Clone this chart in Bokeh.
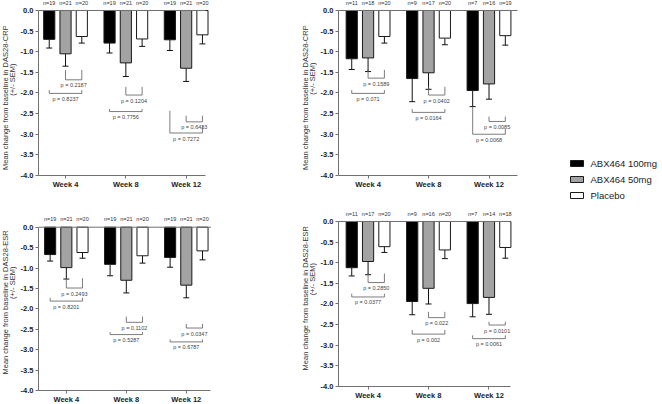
import numpy as np
from math import pi
from bokeh.plotting import figure
from bokeh.models import (Range1d, FixedTicker, PrintfTickFormatter, Whisker,
                          TeeHead, ColumnDataSource, GlobalInlineStyleSheet)
from bokeh.layouts import row, column
from bokeh.embed import file_html
from bokeh.resources import INLINE
from bokeh.core.properties import value

# ---------------- data ----------------
weeks = ["Week 4", "Week 8", "Week 12"]
groups = ["ABX464 100mg", "ABX464 50mg", "Placebo"]
group_colors = ["#000000", "#a3a3a3", "#ffffff"]

# DAS28-CRP, left panel  (rows: 100mg, 50mg, placebo; cols: week 4, 8, 12)
crp1_mean = [[-0.70, -0.79, -0.71], [-1.05, -1.27, -1.40], [-0.63, -0.69, -0.59]]
crp1_sem = [[0.21, 0.24, 0.26], [0.30, 0.33, 0.32], [0.16, 0.18, 0.22]]
crp1_n = [[19, 19, 19], [21, 21, 21], [20, 20, 20]]
# (week index, left group, right group, bracket level, left tick top, right tick top, label)
crp1_brackets = [
    (0, 1, 2, -1.68, -1.44, -1.44, "p = 0.2187"),
    (0, 0, 2, -2.01, -1.93, -1.93, "p = 0.8237"),
    (1, 1, 2, -2.05, -1.85, -1.85, "p = 0.1204"),
    (1, 0, 2, -2.45, -2.39, -2.39, "p = 0.7756"),
    (2, 1, 2, -2.70, -2.55, -2.55, "p = 0.6433"),
    (2, 0, 2, -2.97, -2.43, -2.79, "p = 0.7272"),
]

# DAS28-CRP, right panel
crp2_mean = [[-1.17, -1.65, -1.94], [-1.15, -1.51, -1.78], [-0.63, -0.67, -0.61]]
crp2_sem = [[0.26, 0.56, 0.39], [0.33, 0.40, 0.37], [0.16, 0.16, 0.23]]
crp2_n = [[11, 9, 7], [18, 17, 16], [20, 20, 19]]
crp2_brackets = [
    (0, 1, 2, -1.64, -1.44, -1.44, "p = 0.1589"),
    (0, 0, 2, -2.01, -1.93, -1.93, "p = 0.071"),
    (1, 1, 2, -2.05, -1.85, -1.85, "p = 0.0402"),
    (1, 0, 2, -2.47, -2.39, -2.39, "p = 0.0164"),
    (2, 1, 2, -2.69, -2.57, -2.57, "p = 0.0085"),
    (2, 0, 2, -3.00, -2.33, -2.87, "p = 0.0068"),
]

# DAS28-ESR, left panel
esr1_mean = [[-0.67, -0.91, -0.74], [-0.99, -1.30, -1.42], [-0.62, -0.70, -0.58]]
esr1_sem = [[0.16, 0.28, 0.24], [0.28, 0.31, 0.31], [0.14, 0.18, 0.22]]
esr1_n = [[19, 19, 19], [21, 21, 21], [20, 20, 20]]
esr1_brackets = [
    (0, 1, 2, -1.49, -1.25, -1.25, "p = 0.2493"),
    (0, 0, 2, -1.81, -1.73, -1.73, "p = 0.8201"),
    (1, 1, 2, -2.33, -2.19, -2.19, "p = 0.1102"),
    (1, 0, 2, -2.63, -2.57, -2.57, "p = 0.5287"),
    (2, 1, 2, -2.47, -2.37, -2.37, "p = 0.0347"),
    (2, 0, 2, -2.81, -2.75, -2.75, "p = 0.6787"),
]

# DAS28-ESR, right panel
esr2_mean = [[-1.12, -1.94, -1.99], [-0.97, -1.62, -1.84], [-0.61, -0.69, -0.63]]
esr2_sem = [[0.20, 0.32, 0.32], [0.32, 0.38, 0.41], [0.14, 0.21, 0.26]]
esr2_n = [[11, 9, 7], [17, 16, 14], [20, 20, 18]]
esr2_brackets = [
    (0, 1, 2, -1.48, -1.26, -1.26, "p = 0.2850"),
    (0, 0, 2, -1.83, -1.75, -1.75, "p = 0.0377"),
    (1, 1, 2, -2.33, -2.19, -2.19, "p = 0.022"),
    (1, 0, 2, -2.73, -2.63, -2.63, "p = 0.002"),
    (2, 1, 2, -2.51, -2.43, -2.43, "p = 0.0101"),
    (2, 0, 2, -2.84, -2.76, -2.76, "p = 0.0061"),
]

y_ticks = [-4.0, -3.5, -3.0, -2.5, -2.0, -1.5, -1.0, -0.5, 0.0]
title_lines_crp = ["Mean change from baseline in DAS28-CRP", "(+/- SEM)"]
title_lines_esr = ["Mean change from baseline in DAS28-ESR", "(+/- SEM)"]

FONT = "Liberation Sans"
AXIS_COLOR = "#707070"
OFFSETS = [-0.27, 0.0, 0.27]
BAR_W = 0.185


def title_fig(lines, g):
    # same vertical scale as the panel, but the frame runs to the bottom edge
    ppu = (g["h"] - g["bt"] - g["bb"]) / (4 + g["yt"])
    ylo = -4 - g["bb"] / ppu
    t = figure(width=g["tw"], height=g["h"], x_range=Range1d(0, g["tw"]),
               y_range=Range1d(ylo, g["yt"]), x_axis_type=None, y_axis_type=None,
               output_backend="svg", toolbar_location=None,
               min_border_left=0, min_border_right=0,
               min_border_top=g["bt"], min_border_bottom=0)
    t.outline_line_color = None
    t.xgrid.visible = False
    t.ygrid.visible = False
    t.text(x=g["tx"], y=g["ty"], text=lines, angle=pi / 2,
           text_font=value(FONT), text_font_size="7.5px", text_align="center",
           text_baseline="middle", text_color="#333333")
    return t


def panel(mean, sem, n, brackets, g):
    p = figure(width=g["w"], height=g["h"],
               x_range=Range1d(g["xs"], g["xe"]), y_range=Range1d(-4, g["yt"]),
               output_backend="svg", toolbar_location=None,
               min_border_left=g["bl"], min_border_right=g["br"],
               min_border_top=g["bt"], min_border_bottom=g["bb"])
    p.outline_line_color = None
    p.xgrid.visible = False
    p.ygrid.visible = False

    for gi in range(3):
        xs = [w + 1 + OFFSETS[gi] for w in range(len(weeks))]
        src = ColumnDataSource(dict(
            x=xs, top=[0.0] * len(xs), bottom=mean[gi],
            lower=[m - s for m, s in zip(mean[gi], sem[gi])], upper=mean[gi],
            nlab=[f"n={v}" for v in n[gi]]))
        p.vbar(x="x", top="top", bottom="bottom", width=BAR_W, source=src,
               fill_color=group_colors[gi], line_color="#1a1a1a", line_width=1)
        p.add_layout(Whisker(base="x", lower="lower", upper="upper", source=src,
                             line_color="#111111", line_width=1, upper_head=None,
                             lower_head=TeeHead(size=6, line_color="#111111", line_width=1)))
        p.text(x="x", y=0.19, text="nlab", source=src, text_font=value(FONT),
               text_font_size="5.5px", text_align="center", text_baseline="middle",
               text_color="#333333")

    hx0, hx1, hy, vx, vy0, vy1, tx, ty, tt = [], [], [], [], [], [], [], [], []
    for (wk, a, b, yl, ta, tb, lab) in brackets:
        xa = wk + 1 + OFFSETS[a]
        xb = wk + 1 + OFFSETS[b]
        hx0.append(xa); hx1.append(xb); hy.append(yl)
        vx += [xa, xb]; vy0 += [ta, tb]; vy1 += [yl, yl]
        tx.append((xa + xb) / 2); ty.append(yl); tt.append(lab)
    p.segment(x0=hx0, y0=hy, x1=hx1, y1=hy, line_color="#5a5a5a", line_width=0.8)
    p.segment(x0=vx, y0=vy0, x1=vx, y1=vy1, line_color="#5a5a5a", line_width=0.8)
    p.text(x=tx, y=ty, text=tt, y_offset=5.5, text_font=value(FONT), text_font_size="5.5px",
           text_align="center", text_baseline="middle", text_color="#444444")

    # zero line across the axis extent
    p.segment(x0=[g["xs"]], y0=[0], x1=[g["xb"]], y1=[0], line_color=AXIS_COLOR, line_width=1)

    xa = p.xaxis[0]
    xa.ticker = FixedTicker(ticks=[i + 1 for i in range(len(weeks))])
    xa.major_label_overrides = {i + 1: w for i, w in enumerate(weeks)}
    xa.bounds = (g["xs"], g["xb"])
    xa.major_label_text_font = FONT
    xa.major_label_text_font_style = "bold"
    xa.major_label_text_font_size = "7.5px"
    xa.major_label_text_color = "#222222"
    xa.major_tick_out = 3
    xa.major_tick_in = 0
    xa.major_label_standoff = 1
    xa.minor_tick_line_color = None
    xa.axis_line_color = AXIS_COLOR
    xa.major_tick_line_color = AXIS_COLOR

    ya = p.yaxis[0]
    ya.ticker = FixedTicker(ticks=y_ticks)
    ya.formatter = PrintfTickFormatter(format="%.1f")
    ya.bounds = (-4, 0)
    ya.major_label_text_font = FONT
    ya.major_label_text_font_style = "bold"
    ya.major_label_text_font_size = "7.5px"
    ya.major_label_text_color = "#222222"
    ya.major_tick_out = 3
    ya.major_tick_in = 0
    ya.major_label_standoff = 2
    ya.minor_tick_line_color = None
    ya.axis_line_color = AXIS_COLOR
    ya.major_tick_line_color = AXIS_COLOR
    return p


g_tl = dict(tw=17, w=283, h=200, xs=0.552, xe=3.437, xb=3.323, yt=0.2424,
            bl=19, br=88, bt=0, bb=25, tx=[4.5, 12], ty=[-2.45, -1.95])
g_tr = dict(tw=17, w=223, h=200, xs=0.511, xe=3.554, xb=3.472, yt=0.2424,
            bl=20, br=18, bt=0, bb=25, tx=[4.5, 12], ty=[-2.45, -1.92])
g_bl = dict(tw=17, w=283, h=212, xs=0.536, xe=3.470, xb=3.41, yt=0.458,
            bl=18, br=86, bt=8, bb=22, tx=[4.5, 12], ty=[-2.12, -1.58])
g_br = dict(tw=17, w=223, h=212, xs=0.511, xe=3.455, xb=3.357, yt=0.315,
            bl=20, br=24, bt=8, bb=26, tx=[4.5, 12], ty=[-2.18, -1.65])

p_tl = row(title_fig(title_lines_crp, g_tl), panel(crp1_mean, crp1_sem, crp1_n, crp1_brackets, g_tl))
p_tr = row(title_fig(title_lines_crp, g_tr), panel(crp2_mean, crp2_sem, crp2_n, crp2_brackets, g_tr))
p_bl = row(title_fig(title_lines_esr, g_bl), panel(esr1_mean, esr1_sem, esr1_n, esr1_brackets, g_bl))
p_br = row(title_fig(title_lines_esr, g_br), panel(esr2_mean, esr2_sem, esr2_n, esr2_brackets, g_br))

# legend panel
leg = figure(width=122, height=412, x_range=Range1d(0, 122), y_range=Range1d(412, 0),
             x_axis_type=None, y_axis_type=None, output_backend="svg",
             toolbar_location=None, min_border=0)
leg.outline_line_color = None
leg.xgrid.visible = False
leg.ygrid.visible = False
leg_y = [163 + 16 * i for i in range(len(groups))]
leg.rect(x=[36.5] * len(groups), y=leg_y, width=13, height=6,
         fill_color=group_colors, line_color="#1a1a1a", line_width=1)
leg.text(x=[50] * len(groups), y=leg_y, text=groups, text_font=value(FONT),
         text_font_size="9.5px", text_align="left", text_baseline="middle",
         text_color="#222222")

root = row(column(p_tl, p_bl), column(p_tr, p_br), leg)
root.stylesheets = [GlobalInlineStyleSheet(
    css="html, body { margin: 0 !important; padding: 0 !important; overflow: hidden; }")]

open("out.html", "w").write(file_html(root, INLINE))
